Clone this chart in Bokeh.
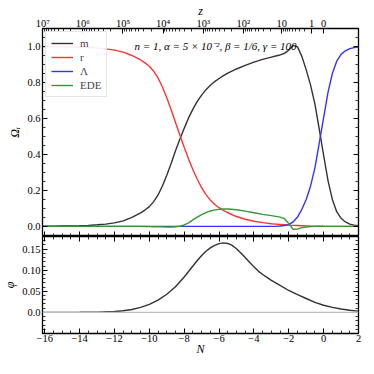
import numpy as np
from bokeh.plotting import figure
from bokeh.models import (FixedTicker, LinearAxis, Legend, LegendItem, Label, Span, Range1d)
from bokeh.layouts import column
from bokeh.embed import file_html
from bokeh.resources import INLINE

# ---------------- data ----------------
N = [-16.13, -15.5, -15, -14.5, -14, -13.5, -13, -12.5, -12, -11.5, -11,
     -10.5, -10.25, -10, -9.75, -9.5, -9.25, -9, -8.75, -8.5, -8.25, -8, -7.75, -7.5,
     -7.25, -7, -6.75, -6.5, -6.25, -6, -5.75, -5.5,
     -5, -4.5, -4, -3.5, -3,
     -2.75, -2.5, -2.25, -2, -1.75, -1.5, -1.25, -1, -0.75, -0.5, -0.25,
     0, 0.25, 0.5, 0.75, 1, 1.25, 1.5, 1.75, 2]

omega_m = [0.001, 0.001, 0.002, 0.003, 0.004, 0.006, 0.009, 0.013, 0.020, 0.031, 0.050,
           0.075, 0.091, 0.110, 0.138, 0.175, 0.225, 0.285, 0.350, 0.420, 0.485, 0.545, 0.603, 0.652,
           0.695, 0.730, 0.760, 0.785, 0.805, 0.822, 0.838, 0.852,
           0.875, 0.895, 0.913, 0.928, 0.941,
           0.947, 0.953, 0.962, 0.980, 1.006, 0.998, 0.945, 0.870, 0.785, 0.680, 0.540,
           0.395, 0.255, 0.150, 0.082, 0.045, 0.025, 0.013, 0.007, 0.004]

omega_r = [0.999, 0.999, 0.998, 0.997, 0.996, 0.994, 0.991, 0.987, 0.980, 0.969, 0.950,
           0.925, 0.909, 0.890, 0.862, 0.825, 0.775, 0.715, 0.648, 0.578, 0.508, 0.440, 0.375, 0.315,
           0.262, 0.215, 0.177, 0.146, 0.122, 0.104, 0.089, 0.076,
           0.055, 0.040, 0.029, 0.021, 0.015,
           0.013, 0.011, 0.009, 0.007, 0.006, 0.005, 0.004, 0.003, 0.002, 0.0015, 0.001,
           0.0007, 0.0005, 0.0003, 0.0002, 0.0001, 0.0001, 0.0, 0.0, 0.0]

omega_L = [0.0, 0.0, 0.0, 0.0, 0.0, 0.0, 0.0, 0.0, 0.0, 0.0, 0.0,
           0.0, 0.0, 0.0, 0.0, 0.0, 0.0, 0.0, 0.0, 0.0, 0.0, 0.0, 0.0, 0.0,
           0.0, 0.0, 0.0, 0.0, 0.0, 0.0, 0.0, 0.0,
           0.0, 0.0, 0.0, 0.0, 0.0,
           0.0, 0.002, 0.005, 0.010, 0.025, 0.052, 0.095, 0.150, 0.225, 0.325, 0.465,
           0.605, 0.745, 0.850, 0.918, 0.956, 0.976, 0.988, 0.994, 0.997]

omega_ede = [0.0, 0.0, 0.0, 0.0, 0.0, 0.0, 0.0, 0.0, 0.0, 0.0, 0.0,
             0.0, -0.0005, -0.001, -0.0015, -0.002, -0.0025, -0.003, -0.003, -0.002, 0.001, 0.008, 0.020, 0.036,
             0.052, 0.066, 0.077, 0.086, 0.092, 0.095, 0.097, 0.097,
             0.093, 0.085, 0.076, 0.067, 0.060,
             0.056, 0.052, 0.043, 0.016, -0.016, -0.015, -0.007, -0.003, -0.001, 0.0, 0.0,
             0.0, 0.0, 0.0, 0.0, 0.0, 0.0, 0.0, 0.0, 0.0]

N_phi = [-16.13, -15, -14, -13, -12, -11.5, -11, -10.5, -10, -9.5, -9, -8.5,
         -8, -7.75, -7.5, -7.25, -7, -6.75, -6.5, -6.25, -6, -5.75, -5.5, -5.25,
         -5, -4.75, -4.5, -4.25, -4, -3.75, -3.5, -3.25, -3,
         -2.5, -2, -1.5, -1, -0.5, 0, 0.5, 1, 1.5, 2]
phi = [0.0, 0.0001, 0.0003, 0.0008, 0.002, 0.004, 0.007, 0.012, 0.019, 0.029, 0.043, 0.061,
       0.084, 0.097, 0.110, 0.123, 0.135, 0.145, 0.153, 0.159, 0.163, 0.165, 0.1635, 0.159,
       0.151, 0.141, 0.130, 0.119, 0.108, 0.098, 0.090, 0.083, 0.076,
       0.064, 0.052, 0.042, 0.033, 0.024, 0.017, 0.012, 0.008, 0.005, 0.003]

series_labels = ["m", "r", "Λ", "EDE"]
series_colors = ["#333333", "#ff3333", "#3333ff", "#339933"]

N_ticks = [-16, -14, -12, -10, -8, -6, -4, -2, 0, 2]
N_tick_labels = ["−16", "−14", "−12", "−10", "−8", "−6", "−4", "−2", "0", "2"]
z_ticks = [1e7, 1e6, 1e5, 1e4, 1e3, 1e2, 10, 1, 0]
z_tick_labels = ["10⁷", "10⁶", "10⁵", "10⁴", "10³", "10²", "10", "1", "0"]
om_ticks = [0.0, 0.2, 0.4, 0.6, 0.8, 1.0]
om_tick_labels = ["0.0", "0.2", "0.4", "0.6", "0.8", "1.0"]
phi_ticks = [0.0, 0.05, 0.1, 0.15]
phi_tick_labels = ["0.0", "0.05", "0.10", "0.15"]

annotation = "n = 1, α = 5 × 10⁻², β = 1/6, γ = 100"

# ---------------- styling ----------------
FONT = "Liberation Serif"
TICK_FS = "10.5px"
LAB_FS = "12px"
W = 362
ML, MR = 35, 4

def style_axis(ax, labels=True):
    ax.axis_line_color = None
    ax.major_tick_in = 5
    ax.major_tick_out = 0
    ax.minor_tick_in = 3
    ax.minor_tick_out = 0
    ax.major_tick_line_color = "black"
    ax.minor_tick_line_color = "black"
    ax.major_tick_line_width = 1
    ax.minor_tick_line_width = 0.8
    if labels:
        ax.major_label_text_font = FONT
        ax.major_label_text_font_size = TICK_FS
        ax.major_label_text_color = "black"
        ax.major_label_standoff = 2
        ax.axis_label_text_font = FONT
        ax.axis_label_text_font_size = LAB_FS
        ax.axis_label_text_color = "black"
        ax.axis_label_standoff = 2
    else:
        ax.major_label_text_color = None
        ax.major_label_standoff = 0

x_minor = list(np.arange(-16, 2.01, 0.5))
N_ticker = FixedTicker(ticks=N_ticks, minor_ticks=x_minor)
z_minor = [-np.log1p(k * 10.0 ** d) for d in range(0, 7) for k in range(2, 10)]
z_pos = [float(-np.log1p(z)) for z in z_ticks]
z_ticker = FixedTicker(ticks=z_pos, minor_ticks=z_minor)
z_overrides = dict(zip(z_pos, z_tick_labels))

xr = Range1d(-16.13, 2)

# ---------------- top panel ----------------
p1 = figure(width=W, height=236, x_range=xr, y_range=Range1d(-0.056, 1.10),
            output_backend="svg", toolbar_location=None,
            x_axis_location=None, y_axis_location=None,
            min_border_left=ML, min_border_right=MR, min_border_top=20, min_border_bottom=0)
p1.grid.visible = False
p1.outline_line_color = "black"
p1.outline_line_width = 1.3

om_ticker = FixedTicker(ticks=om_ticks, minor_ticks=list(np.arange(-0.05, 1.101, 0.05)))
left1 = LinearAxis(ticker=om_ticker, axis_label="Ωᵢ",
                   major_label_overrides=dict(zip(om_ticks, om_tick_labels)))
style_axis(left1)
right1 = LinearAxis(ticker=om_ticker)
style_axis(right1, labels=False)
below1 = LinearAxis(ticker=N_ticker)
style_axis(below1, labels=False)
above1 = LinearAxis(ticker=z_ticker, axis_label="z", major_label_overrides=z_overrides)
style_axis(above1)
above1.axis_label_text_font_style = "italic"
above1.axis_label_standoff = -3
above1.major_label_standoff = 0
p1.add_layout(left1, "left")
p1.add_layout(right1, "right")
p1.add_layout(below1, "below")
p1.add_layout(above1, "above")

renderers = []
for ys, col in zip([omega_m, omega_r, omega_L, omega_ede], series_colors):
    r = p1.line(N, ys, line_color=col, line_width=1.4)
    renderers.append(r)

legend = Legend(items=[LegendItem(label=l, renderers=[r]) for l, r in zip(series_labels, renderers)],
                location="top_left")
legend.label_text_font = FONT
legend.label_text_font_size = "11px"
legend.label_height = 12
legend.glyph_height = 12
legend.glyph_width = 22
legend.spacing = 2
legend.padding = 5
legend.margin = 3
legend.label_standoff = 7
legend.border_line_color = "#cccccc"
legend.border_line_width = 1
legend.background_fill_alpha = 0.9
p1.add_layout(legend)

p1.add_layout(Label(x=-6.2, y=1.0, text=annotation, text_font=FONT, text_font_size="11px",
                    text_font_style="italic", text_align="center", text_baseline="middle",
                    text_color="black"))

# ---------------- bottom panel ----------------
p2 = figure(width=W, height=122, x_range=xr, y_range=Range1d(-0.05, 0.18),
            output_backend="svg", toolbar_location=None,
            x_axis_location=None, y_axis_location=None,
            min_border_left=ML, min_border_right=MR, min_border_top=0, min_border_bottom=18)
p2.grid.visible = False
p2.outline_line_color = "black"
p2.outline_line_width = 1.3

phi_ticker = FixedTicker(ticks=phi_ticks, minor_ticks=list(np.arange(-0.05, 0.181, 0.01)))
left2 = LinearAxis(ticker=phi_ticker, axis_label="φ",
                   major_label_overrides=dict(zip(phi_ticks, phi_tick_labels)))
style_axis(left2)
left2.axis_label_text_font_style = "italic"
right2 = LinearAxis(ticker=phi_ticker)
style_axis(right2, labels=False)
below2 = LinearAxis(ticker=N_ticker, axis_label="N",
                    major_label_overrides=dict(zip(N_ticks, N_tick_labels)))
style_axis(below2)
below2.axis_label_text_font_style = "italic"
below2.axis_label_standoff = -3
below2.major_label_standoff = 1
above2 = LinearAxis(ticker=N_ticker)
style_axis(above2, labels=False)
p2.add_layout(left2, "left")
p2.add_layout(right2, "right")
p2.add_layout(below2, "below")
p2.add_layout(above2, "above")

p2.add_layout(Span(location=0, dimension="width", line_color="#bbbbbb", line_width=1.4))
p2.line(N_phi, phi, line_color="#333333", line_width=1.4)

layout = column(p1, p2, spacing=0)
open("out.html", "w").write(file_html(layout, INLINE))
